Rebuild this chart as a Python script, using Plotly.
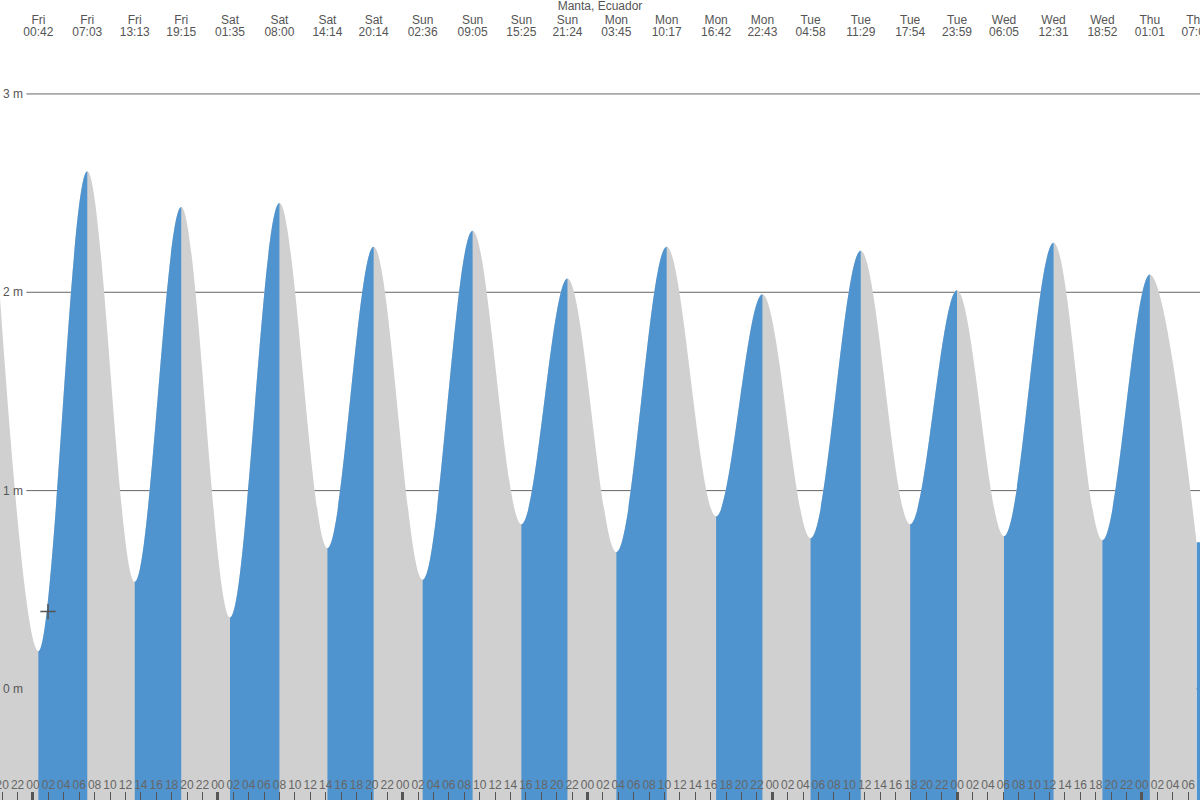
import plotly.graph_objects as go

# ---------------- data ----------------
location = "Manta, Ecuador"
extreme_times = [
    "Thu 18:33", "Fri 00:42", "Fri 07:03", "Fri 13:13", "Fri 19:15",
    "Sat 01:35", "Sat 08:00", "Sat 14:14", "Sat 20:14",
    "Sun 02:36", "Sun 09:05", "Sun 15:25", "Sun 21:24",
    "Mon 03:45", "Mon 10:17", "Mon 16:42", "Mon 22:43",
    "Tue 04:58", "Tue 11:29", "Tue 17:54", "Tue 23:59",
    "Wed 06:05", "Wed 12:31", "Wed 18:52", "Thu 01:01", "Thu 07:05",
]
extreme_heights = [
    2.65, 0.19, 2.61, 0.54, 2.43,
    0.36, 2.45, 0.71, 2.23,
    0.55, 2.31, 0.83, 2.07,
    0.69, 2.23, 0.87, 1.99,
    0.76, 2.21, 0.83, 2.01,
    0.77, 2.25, 0.75, 2.09, 0.74,
]
now_time = "Fri 01:57"
now_height = 0.39
view_start = "Thu 19:43"
view_end = "Thu 07:32"
height_ticks = [0, 1, 2, 3]
height_text = ["0 m", "1 m", "2 m", "3 m"]
height_range = [-0.56, 3.272]

DAY_INDEX = {"Thu": -1, "Fri": 0, "Sat": 1, "Sun": 2, "Mon": 3, "Tue": 4, "Wed": 5}


def parse_seq(labels):
    out, last = [], None
    for s in labels:
        d, hm = s.split()
        h, m = hm.split(":")
        v = DAY_INDEX[d] * 24 + int(h) + int(m) / 60
        while last is not None and v < last:
            v += 168
        out.append(v)
        last = v
    return out


hours = parse_seq(extreme_times)
x0, x1 = parse_seq([view_start, view_end])
now_x = parse_seq([now_time])[0]
day_labels = [s.split()[0] for s in extreme_times]
time_labels = [s.split()[1] for s in extreme_times]

hour_ticks = list(range(int(x0) - (int(x0) % 2), int(x1) + 1, 2))
hour_ticks = [h for h in hour_ticks if x0 - 1 <= h <= x1 + 1]
hour_text = [f"{h % 24:02d}" for h in hour_ticks]
midnights = [h for h in hour_ticks if h % 24 == 0]

BLUE = "#4f94cf"
GREY = "#d0d0d0"
TXT = "#555555"
FONT = "Liberation Sans"
ybot, ytop = height_range

fig = go.Figure()

# main subplot: grey under the whole curve
fig.add_trace(go.Scatter(x=[hours[0], hours[-1]], y=[ybot, ybot], mode="lines",
                         line=dict(width=0), hoverinfo="skip", showlegend=False))
fig.add_trace(go.Scatter(x=hours, y=extreme_heights, mode="lines",
                         line=dict(width=0, shape="spline", smoothing=1),
                         fill="tonexty", fillcolor=GREY, hoverinfo="skip", showlegend=False))

layout_axes = {}
span = x1 - x0
n = 2


def add_segment(t_a, t_b, xs, ys, shape):
    global n
    d0 = max(0.0, (t_a - x0) / span)
    d1 = min(1.0, (t_b - x0) / span)
    layout_axes[f"xaxis{n}"] = dict(domain=[d0, d1], range=[t_a, t_b], visible=False,
                                    anchor="y", fixedrange=True, automargin=False)
    fig.add_trace(go.Scatter(x=[xs[0], xs[-1]], y=[ybot, ybot], mode="lines",
                             line=dict(width=0), xaxis=f"x{n}", yaxis="y",
                             hoverinfo="skip", showlegend=False))
    fig.add_trace(go.Scatter(x=xs, y=ys, mode="lines",
                             line=dict(width=0, shape=shape, smoothing=1),
                             fill="tonexty", fillcolor=BLUE, xaxis=f"x{n}", yaxis="y",
                             hoverinfo="skip", showlegend=False))
    n += 1


# blue (rising tide) segments, each clipped to its own sub-range
for i in range(len(hours) - 1):
    if extreme_heights[i + 1] > extreme_heights[i]:
        lo, hi = max(i - 1, 0), min(i + 3, len(hours))
        add_segment(hours[i], hours[i + 1], hours[lo:hi], extreme_heights[lo:hi], "spline")
# tide rising again after the last low, up to the right edge of the view
add_segment(hours[-1], x1, [hours[-1], x1], [extreme_heights[-1], extreme_heights[-1]], "linear")

# final full-width subplot carrying the tick axes and the "now" marker
top = n
layout_axes[f"xaxis{top}"] = dict(
    domain=[0, 1], range=[x0, x1], anchor="y", showgrid=False, zeroline=False, showline=False,
    tickmode="array", tickvals=hour_ticks, ticktext=hour_text, tickangle=0, automargin=False,
    ticks="inside", ticklen=8, tickwidth=1, tickcolor=TXT, ticklabeloverflow="allow",
    ticklabelposition="inside", tickfont=dict(family=FONT, size=12, color="#666666"),
)
layout_axes[f"xaxis{top + 1}"] = dict(
    overlaying=f"x{top}", anchor="y", range=[x0, x1], showgrid=False, zeroline=False,
    tickmode="array", tickvals=midnights, ticks="inside", ticklen=8, tickwidth=3,
    tickcolor=TXT, showticklabels=False, automargin=False,
)
layout_axes[f"xaxis{top + 2}"] = dict(
    overlaying=f"x{top}", anchor="y", side="top", range=[x0, x1], showgrid=False, zeroline=False,
    tickmode="array", tickvals=hours, ticktext=day_labels, ticks="", tickangle=0,
    ticklabeloverflow="allow",
    ticklabelstandoff=13, automargin=False, tickfont=dict(family=FONT, size=12, color=TXT),
)
layout_axes[f"xaxis{top + 3}"] = dict(
    overlaying=f"x{top}", anchor="y", side="top", range=[x0, x1], showgrid=False, zeroline=False,
    tickmode="array", tickvals=hours, ticktext=time_labels, ticks="", tickangle=0,
    ticklabeloverflow="allow",
    ticklabelstandoff=1, automargin=False, tickfont=dict(family=FONT, size=12, color=TXT),
)

fig.add_trace(go.Scatter(x=[now_x], y=[now_height], mode="markers", xaxis=f"x{top}", yaxis="y",
                         marker=dict(symbol="cross-thin", size=11, line=dict(width=1.5, color=TXT)),
                         hoverinfo="skip", showlegend=False))
for k in (1, 2, 3):
    fig.add_trace(go.Scatter(x=hours, y=extreme_heights, mode="markers", xaxis=f"x{top + k}",
                             yaxis="y", marker=dict(opacity=0), hoverinfo="skip", showlegend=False))

shapes = [dict(type="line", xref="paper", x0=0.022, x1=1, yref="y", y0=v, y1=v,
               line=dict(color="#666666", width=1), layer="below") for v in height_ticks]

y_labels = [dict(xref="paper", x=0, xanchor="left", xshift=1, yref="y", y=v, yanchor="middle",
                 text=t, showarrow=False, font=dict(family=FONT, size=12, color=TXT))
            for v, t in zip(height_ticks, height_text)]

fig.update_layout(
    width=1200, height=800,
    margin=dict(l=0, r=0, t=40, b=0, pad=0, autoexpand=False),
    paper_bgcolor="white", plot_bgcolor="rgba(0,0,0,0)",
    showlegend=False,
    title=dict(text=location, x=0.5, xanchor="center", y=0.998, yanchor="top",
               font=dict(family=FONT, size=12, color=TXT), pad=dict(t=0, b=0)),
    xaxis=dict(range=[x0, x1], visible=False, domain=[0, 1], automargin=False),
    yaxis=dict(range=[ybot, ytop], showticklabels=False, ticks="", showgrid=False,
               zeroline=False, showline=False, automargin=False),
    shapes=shapes,
    annotations=y_labels,
    **layout_axes,
)

fig.write_html("out.html", config={"displayModeBar": False},
               post_script="document.body.style.margin='0';")
